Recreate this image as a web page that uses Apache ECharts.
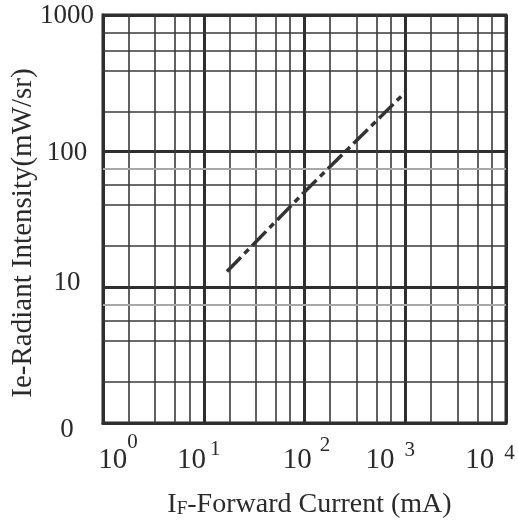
<!DOCTYPE html>
<html>
<head>
<meta charset="utf-8">
<script src="https://cdn.jsdelivr.net/npm/echarts@6/dist/echarts.min.js"></script>
<style>
html,body{margin:0;padding:0;background:#fff;}
#chart{width:518px;height:522px;}
</style>
</head>
<body>
<div id="chart"></div>
<script>
// ---- data ----
const forwardCurrent = [17, 100, 1000];      // mA
const radiantIntensity = [13, 50, 270];      // mW/sr

// tick labels
const xTickValues = [1, 10, 100, 1000, 10000];
const xTickExponents = ['0', '1', '2', '3', '4'];
const yTickValues = [1, 10, 100, 1000];
const yTickLabels = ['0', '10', '100', '1000'];

// printed (non-uniform) minor grid lines of the original chart paper
const xMinorLines = [1.8, 3.3, 5.2, 7.2, 18, 33, 52, 72, 180, 330, 520, 720, 1800, 3300, 5200, 7200];
const yMinorLines = [2, 4, 5.6, 20, 40, 56, 195, 390, 550, 740];
const yGrayLines = [7.4, 74];

const FONT = 'Liberation Serif';
const TXT = '#2a2a2a';

// x label styles: [left pad, right pad, superscript top pad, gap before superscript]
const xLabelPad = [[30, 0, 1, 0], [0, 10, 7.5, 4], [4, 0, 3.5, 8], [0, 30, 8.5, 10], [0, 32, 11.5, 10]];
const xRich = {};
xLabelPad.forEach((p, i) => {
  xRich['m' + i] = {fontFamily: FONT, fontSize: 29, color: TXT, padding: [15, 0, 0, p[0]], verticalAlign: 'bottom'};
  xRich['s' + i] = {fontFamily: FONT, fontSize: 21, color: TXT, padding: [p[2], p[1], 0, p[3]], verticalAlign: 'top'};
});

const markData = [];
xMinorLines.forEach(v => markData.push({xAxis: v, lineStyle: {color: '#3a3a3a', width: 1.6, type: 'solid'}}));
yMinorLines.forEach(v => markData.push({yAxis: v, lineStyle: {color: '#3a3a3a', width: 1.6, type: 'solid'}}));
yGrayLines.forEach(v => markData.push({yAxis: v, lineStyle: {color: '#a8a8a8', width: 2, type: 'solid'}}));

const chart = echarts.init(document.getElementById('chart'));
chart.setOption({
  animation: false,
  backgroundColor: '#fff',
  grid: {left: 103, right: 12, top: 15, bottom: 99, containLabel: false, outerBoundsMode: 'none',
         show: true, borderColor: '#2e2e2e', borderWidth: 3, backgroundColor: 'transparent'},
  xAxis: {
    type: 'log', logBase: 10, min: 1, max: 10000,
    axisLine: {show: true, lineStyle: {color: '#2e2e2e', width: 3}},
    axisTick: {show: false},
    splitLine: {show: true, lineStyle: {color: '#2e2e2e', width: 3}},
    axisLabel: {
      margin: 8,
      formatter: function (v) {
        const i = xTickValues.indexOf(v);
        if (i < 0) return '';
        return '{m' + i + '|10}{s' + i + '|' + xTickExponents[i] + '}';
      },
      rich: xRich
    },
    name: '{a|I}{f|F}{a|-Forward Current (mA)}',
    nameLocation: 'middle',
    nameGap: 66,
    nameMoveOverlap: false,
    nameTextStyle: {
      padding: [0, 0, 0, 10],
      rich: {
        a: {fontFamily: FONT, fontSize: 28, color: TXT, lineHeight: 30, verticalAlign: 'bottom'},
        f: {fontFamily: FONT, fontSize: 19, color: TXT, lineHeight: 25, verticalAlign: 'bottom'}
      }
    }
  },
  yAxis: {
    type: 'log', logBase: 10, min: 1, max: 1000,
    axisLine: {show: true, lineStyle: {color: '#2e2e2e', width: 3}},
    axisTick: {show: false},
    splitLine: {show: true, lineStyle: {color: '#2e2e2e', width: 3}},
    axisLabel: {
      margin: 36, align: 'center',
      formatter: function (v) {
        const i = yTickValues.indexOf(v);
        if (i < 0) return '';
        return '{t' + i + '|' + yTickLabels[i] + '}';
      },
      rich: {
        t0: {fontFamily: FONT, fontSize: 27, color: TXT, padding: [14, 0, 0, 0]},
        t1: {fontFamily: FONT, fontSize: 27, color: TXT, padding: [0, 0, 8, 0]},
        t2: {fontFamily: FONT, fontSize: 27, color: TXT, padding: [3, 0, 0, 0]},
        t3: {fontFamily: FONT, fontSize: 27, color: TXT, padding: [2, 0, 0, 0]}
      }
    },
    name: 'Ie-Radiant Intensity(mW/sr)',
    nameLocation: 'middle',
    nameGap: 64,
    nameMoveOverlap: false,
    nameTextStyle: {fontFamily: FONT, fontSize: 29, color: TXT, lineHeight: 32, padding: [0, 28, 0, 0]}
  },
  series: [
    {
      name: 'grid', type: 'line', data: [], z: 1, silent: true,
      markLine: {silent: true, symbol: ['none', 'none'], label: {show: false}, z: 1, animation: false, data: markData}
    },
    {
      name: 'Ie', type: 'line', z: 5, symbol: 'none', silent: true,
      data: forwardCurrent.map((x, i) => [x, radiantIntensity[i]]),
      lineStyle: {color: '#333', width: 3.5, type: [20, 5, 6, 5], cap: 'butt'}
    }
  ]
});
</script>
</body>
</html>
